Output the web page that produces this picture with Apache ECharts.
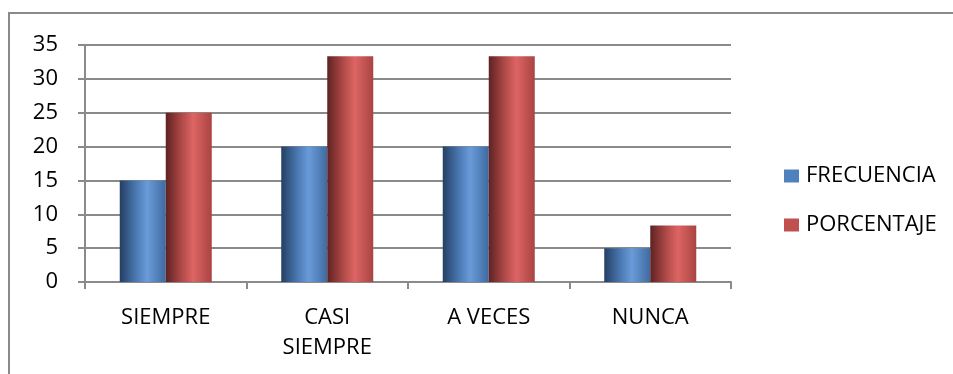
<!DOCTYPE html>
<html>
<head>
<meta charset="utf-8">
<script src="https://cdn.jsdelivr.net/npm/echarts@6/dist/echarts.min.js"></script>
<style>
  html, body { margin: 0; padding: 0; background: #fff; }
</style>
</head>
<body>
<div id="chart" style="width:953px;height:374px;"></div>
<script>
// categorías y valores
var categories = ['SIEMPRE', 'CASI\nSIEMPRE', 'A VECES', 'NUNCA'];
var frecuencia = [15, 20, 20, 5];
var porcentaje = [25, 33.33, 33.33, 8.33];
var yTicks = [0, 5, 10, 15, 20, 25, 30, 35];

// degradado tipo cilindro
function cyl(dark, mid, light, edge) {
  return new echarts.graphic.LinearGradient(0, 0, 1, 0, [
    { offset: 0, color: dark },
    { offset: 0.35, color: mid },
    { offset: 0.6, color: light },
    { offset: 1, color: edge }
  ]);
}

var chart = echarts.init(document.getElementById('chart'), null, { renderer: 'canvas' });

var font = '"Open Sans", "Noto Sans", sans-serif';

chart.setOption({
  animation: false,
  textStyle: { fontFamily: font },
  graphic: [{
    type: 'rect',
    shape: { x: 9, y: 13, width: 1000, height: 400 },
    style: { fill: 'none', stroke: '#8a8a8a', lineWidth: 2 }
  }],
  grid: { left: 85, top: 45, right: 222, bottom: 92 },
  legend: {
    orient: 'vertical',
    left: 779,
    top: 159,
    itemWidth: 15,
    itemHeight: 13,
    itemGap: 25,
    icon: 'rect',
    textStyle: { fontSize: 22, lineHeight: 24, color: '#000', fontFamily: font, padding: [0, 0, 0, 2] },
    data: [
      { name: 'FRECUENCIA', itemStyle: { color: '#4f81bd' } },
      { name: 'PORCENTAJE', itemStyle: { color: '#c0504d' } }
    ]
  },
  xAxis: {
    type: 'category',
    data: categories,
    axisLine: { lineStyle: { color: '#8a8a8a', width: 2 } },
    axisTick: { show: true, length: 7, lineStyle: { color: '#8a8a8a', width: 2 } },
    axisLabel: { fontSize: 22, color: '#000', margin: 21, lineHeight: 30, fontFamily: font }
  },
  yAxis: {
    type: 'value',
    min: 0,
    max: 35,
    interval: 5,
    axisLine: { show: true, lineStyle: { color: '#8a8a8a', width: 2 } },
    axisTick: { show: true, length: 7, lineStyle: { color: '#8a8a8a', width: 2 } },
    axisLabel: {
      fontSize: 22, color: '#000', margin: 27, fontFamily: font,
      formatter: function (v) { return yTicks.indexOf(v) >= 0 ? String(v) : ''; }
    },
    splitLine: { show: true, lineStyle: { color: '#8a8a8a', width: 2 } }
  },
  series: [
    {
      name: 'FRECUENCIA',
      type: 'bar',
      data: frecuencia,
      barWidth: 46,
      barGap: '0%',
      color: '#4f81bd',
      itemStyle: { color: cyl('#243f62', '#4a78b2', '#6a9bd9', '#3f6aa0') }
    },
    {
      name: 'PORCENTAJE',
      type: 'bar',
      data: porcentaje,
      barWidth: 46,
      barGap: '0%',
      color: '#c0504d',
      itemStyle: { color: cyl('#5e2222', '#b04a48', '#dd6563', '#a84442') }
    }
  ]
});
</script>
</body>
</html>
